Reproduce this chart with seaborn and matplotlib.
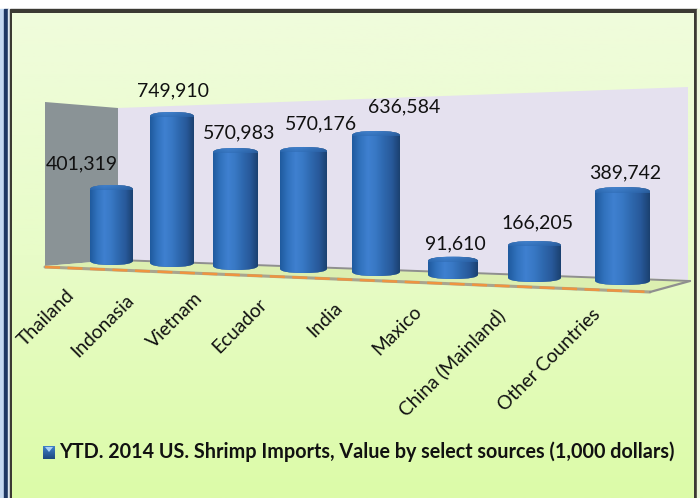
import numpy as np
import pandas as pd
import seaborn as sns
import matplotlib.pyplot as plt
from matplotlib.colors import LinearSegmentedColormap
from matplotlib.patches import PathPatch, Polygon, Rectangle
from matplotlib.path import Path

countries = ["Thailand", "Indonasia", "Vietnam", "Ecuador", "India", "Maxico",
             "China (Mainland)", "Other Countries"]
values = [401319, 749910, 570983, 570176, 636584, 91610, 166205, 389742]
series_name = "YTD. 2014 US. Shrimp Imports, Value by select sources (1,000 dollars)"

# perspective: each bar sits a bit lower, is wider and scaled up going right
lefts = [90, 150, 213, 280, 352, 428, 508, 595]
widths = [43, 44, 45, 47, 48, 50, 53, 55]
bases = [265, 267, 270, 273, 276, 279, 282, 285]
px_per_unit = [1 / 5016, 1 / 4838, 1 / 4680, 1 / 4525, 1 / 4390, 1 / 4100, 1 / 4053, 1 / 3977]
label_pos = [(82, 164), (173, 91), (239, 133), (321, 124), (404, 107), (455, 244), (538, 223), (625, 173)]
tick_pos = [(46, 318), (103, 326), (175, 320), (240, 326), (325, 320), (397, 330), (452, 363), (549, 360)]

sns.set_style("white")
plt.rcParams["font.family"] = ["Lato", "DejaVu Sans"]

fig = plt.figure(figsize=(7, 4.98), dpi=100)
ax = fig.add_axes([0, 0, 1, 1])
ax.set_axis_off()

df = pd.DataFrame({"country": countries, "value": values})
sns.barplot(data=df, x="country", y="value", color="#2a64a8", width=0.8, ax=ax, zorder=5)
bars = list(ax.patches)

blue = LinearSegmentedColormap.from_list(
    "cyl", ["#1f5a9e", "#3172bd", "#3f80d0", "#3878c4", "#2e68ae", "#28599a", "#1b4170"])
bg = LinearSegmentedColormap.from_list("bg", ["#f0fcdc", "#e8fcc8", "#dcfba8"])

# outer frame and panel
ax.add_patch(Rectangle((0, 0), 700, 498, color="white", zorder=0))
ax.add_patch(Rectangle((0, 9), 4, 489, color="#c5d9f1", zorder=1))
ax.add_patch(Rectangle((4, 9), 4, 489, color="#1f3864", zorder=1))
ax.add_patch(Rectangle((8, 9), 2, 489, color="#dfe8f0", zorder=1))
ax.add_patch(Rectangle((10, 9), 687, 489, color="#3b3a33", zorder=1))
ax.add_patch(Rectangle((697, 9), 3, 489, color="#eef8dc", zorder=1))
ax.imshow(np.linspace(0, 1, 256)[:, None], cmap=bg, extent=(12, 694, 498, 13),
          aspect="auto", zorder=2)

# chart walls and floor
ax.add_patch(Polygon([(45, 102), (118, 108), (118, 260), (45, 266)], color="#8a9396", lw=0, zorder=3))
ax.add_patch(Polygon([(118, 108), (688, 87), (688, 280), (118, 260)], color="#e5e1ef", lw=0, zorder=3))
ax.add_patch(Polygon([(45, 266), (118, 260), (690, 281), (650, 292)], color="#dcefb0", lw=0, zorder=3))
ax.plot([118, 690], [260, 281], color="#8f8f8f", lw=1.4, zorder=3.5)
ax.plot([45, 650], [267, 292], color="#a9a58e", lw=2.2, zorder=3.5)
ax.plot([45, 650], [267, 292], color="#ee9440", lw=1.8, ls=(0, (6, 3)), zorder=3.6)
ax.plot([650, 690], [292, 281], color="#8f8f8f", lw=1.6, zorder=3.5)

for i, bar in enumerate(bars):
    left, w, base = lefts[i], widths[i], bases[i]
    h = values[i] * px_per_unit[i]
    top = base - h
    bar.set_x(left)
    bar.set_width(w)
    bar.set_y(top)
    bar.set_height(h)
    bar.set_linewidth(0)
    cap = 4.5
    shape = Path(
        [(left, top + cap), (left, top), (left + w / 2, top), (left + w, top), (left + w, top + cap),
         (left + w, base - cap), (left + w, base), (left + w / 2, base), (left, base), (left, base - cap),
         (left, top + cap)],
        [Path.MOVETO, Path.CURVE3, Path.CURVE3, Path.CURVE3, Path.CURVE3,
         Path.LINETO, Path.CURVE3, Path.CURVE3, Path.CURVE3, Path.CURVE3, Path.CLOSEPOLY])
    outline = PathPatch(shape, transform=ax.transData, fc="none", ec="none", zorder=6)
    ax.add_patch(outline)
    bar.set_clip_path(outline)
    grad = ax.imshow(np.linspace(0, 1, 128)[None, :], cmap=blue, extent=(left, left + w, base, top),
                     aspect="auto", zorder=6)
    grad.set_clip_path(outline)
    # lighter rounded cap
    capshape = ax.imshow(np.linspace(0, 1, 32)[:, None], cmap=LinearSegmentedColormap.from_list(
        "c", ["#4a86cc", "#3b78c0", "#2f6bb2"]), extent=(left, left + w, top + cap + 1, top),
        aspect="auto", zorder=6.5, alpha=0.6)
    capshape.set_clip_path(outline)
    ax.text(*label_pos[i], f"{values[i]:,}", ha="center", va="center", fontsize=14,
            color="#111111", zorder=8)
    ax.text(*tick_pos[i], countries[i], rotation=45, ha="center", va="center",
            fontsize=13.8, color="#111111", zorder=8)

# legend
ax.imshow(np.linspace(0, 1, 16)[:, None], cmap=LinearSegmentedColormap.from_list(
    "m", ["#3f7fc8", "#1d4a80"]), extent=(43, 55, 459, 446), aspect="auto", zorder=7)
ax.add_patch(Polygon([(45, 447), (53, 447), (49, 452)], color="#a9d0f5", lw=0, zorder=8))
ax.text(59, 452, series_name, ha="left", va="center", fontsize=14.2, fontweight="bold",
        color="#111111", zorder=8)

ax.set_xlim(0, 700)
ax.set_ylim(498, 0)
fig.savefig("out.png", dpi=100)
